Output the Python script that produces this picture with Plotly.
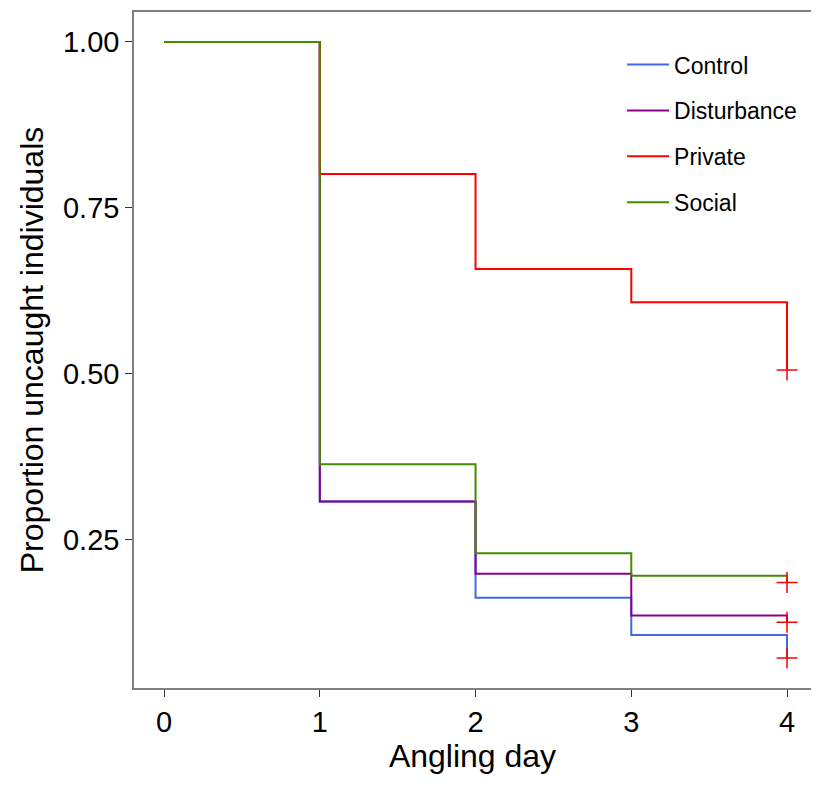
import plotly.graph_objects as go

days = [0, 1, 2, 3, 4]
groups = ["Control", "Disturbance", "Private", "Social"]
control = [1.00, 0.308, 0.163, 0.107, 0.072]
disturbance = [1.00, 0.308, 0.199, 0.136, 0.126]
private = [1.00, 0.801, 0.658, 0.608, 0.506]
social = [1.00, 0.364, 0.230, 0.196, 0.186]
series = [control, disturbance, private, social]
colors = ["#4169E1", "#8B008B", "#FF0000", "#458B00"]

y_ticks = [0.25, 0.50, 0.75, 1.00]
y_tick_labels = ["0.25", "0.50", "0.75", "1.00"]
x_ticks = [0, 1, 2, 3, 4]

fig = go.Figure()
for name, vals, col in zip(groups, series, colors):
    fig.add_trace(go.Scatter(
        x=days, y=vals, mode="lines", line=dict(shape="hv", color=col, width=2),
        name=name, legendgroup=name,
    ))
for name, vals in zip(groups, series):
    fig.add_trace(go.Scatter(
        x=[days[-1]], y=[vals[-1]], mode="markers", showlegend=False,
        marker=dict(symbol="cross-thin", size=15, line=dict(color="#FF0000", width=1.5)),
        hoverinfo="skip",
    ))

font = "Liberation Sans, Arial, sans-serif"
fig.update_layout(
    width=803, height=771,
    margin=dict(l=126, r=0, t=4, b=91, autoexpand=False),
    plot_bgcolor="white", paper_bgcolor="white",
    font=dict(family=font, color="black"),
    showlegend=True,
    legend=dict(x=0.721, y=0.954, xanchor="left", yanchor="top",
                font=dict(size=23, family=font, color="black"),
                bgcolor="rgba(0,0,0,0)", tracegroupgap=13, itemwidth=42,
                traceorder="grouped"),
    xaxis=dict(range=[-0.193, 4.154], tickvals=x_ticks, ticks="outside", ticklen=7,
               tickcolor="#333333", tickfont=dict(size=29), showgrid=False, zeroline=False,
               showline=True, linecolor="#7F7F7F", linewidth=1.5, mirror=True,
               title=dict(text="Angling day", font=dict(size=32), standoff=0)),
    yaxis=dict(range=[0.027, 1.045], tickvals=y_ticks, ticktext=y_tick_labels, ticks="outside",
               ticklen=7, tickcolor="#333333", tickfont=dict(size=29), showgrid=False, zeroline=False,
               showline=True, linecolor="#7F7F7F", linewidth=1.5, mirror=True,
               title=dict(text="Proportion uncaught individuals", font=dict(size=32), standoff=10)),
)
fig.write_html("out.html")
